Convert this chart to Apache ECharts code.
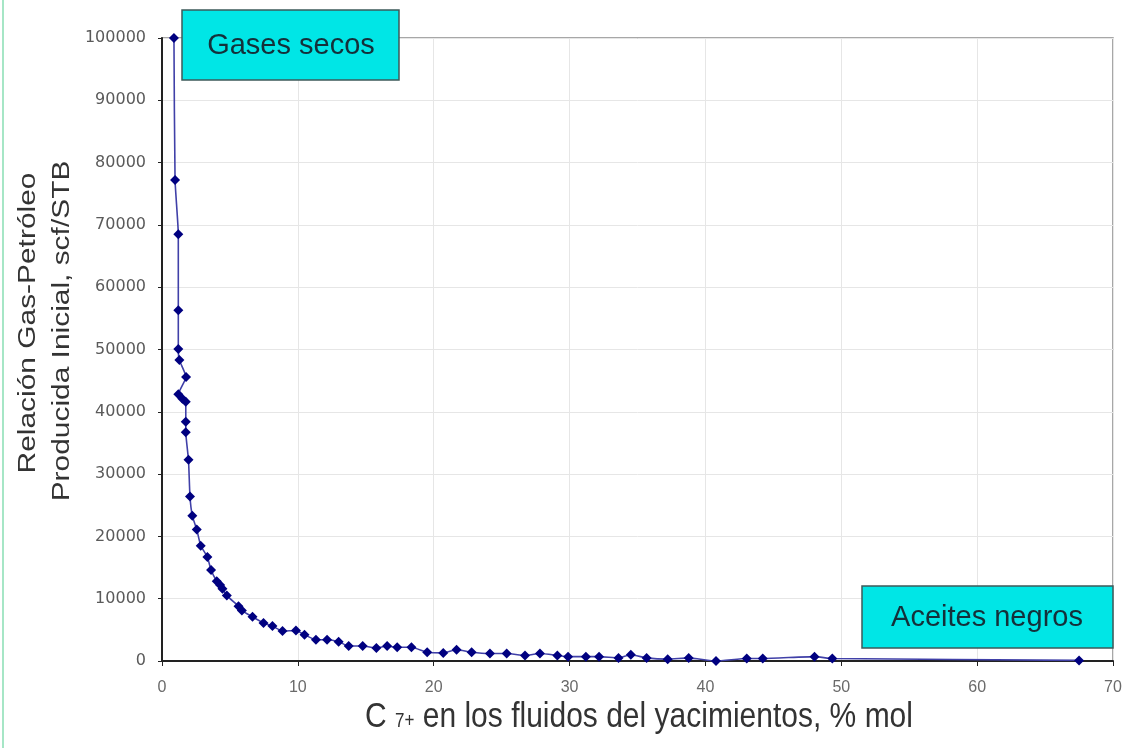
<!DOCTYPE html>
<html><head><meta charset="utf-8">
<script src="https://cdn.jsdelivr.net/npm/echarts@6/dist/echarts.min.js"></script>
<style>html,body{margin:0;padding:0;background:#fff}#c{width:1132px;height:748px}</style>
</head><body><div id="c"></div>
<script>
const c7Percent = [0.88, 0.96, 1.2, 1.2, 1.2, 1.28, 1.77, 1.2, 1.5, 1.75, 1.75, 1.75, 1.95, 2.06, 2.23, 2.56, 2.85, 3.34, 3.61, 4.03, 4.28, 4.45, 4.77, 5.63, 5.88, 6.66, 7.47, 8.13, 8.87, 9.86, 10.49, 11.33, 12.15, 13.0, 13.74, 14.77, 15.78, 16.57, 17.31, 18.36, 19.52, 20.7, 21.68, 22.79, 24.14, 25.37, 26.72, 27.82, 29.1, 29.89, 31.2, 32.17, 33.6, 34.51, 35.67, 37.22, 38.77, 40.78, 43.04, 44.22, 48.03, 49.34, 67.5];
const gorValues = [100000, 77200, 68500, 56300, 50100, 48300, 45600, 42800, 42100, 41600, 38400, 36700, 32300, 26400, 23300, 21100, 18500, 16700, 14600, 12800, 12200, 11600, 10500, 8800, 8100, 7100, 6100, 5600, 4800, 4900, 4200, 3400, 3400, 3100, 2400, 2400, 2100, 2400, 2200, 2200, 1400, 1300, 1800, 1400, 1200, 1200, 900, 1200, 900, 700, 700, 700, 500, 1000, 500, 300, 500, 0, 400, 400, 700, 400, 100];
const xTicks = [0, 10, 20, 30, 40, 50, 60, 70];
const yTicks = [0, 10000, 20000, 30000, 40000, 50000, 60000, 70000, 80000, 90000, 100000];
const yTitle = ['Relación Gas-Petróleo', 'Producida Inicial, scf/STB'];
const xTitle = ['C ', '7+', ' en los fluidos del yacimientos, % mol'];
const annotations = ['Gases secos', 'Aceites negros'];

const data = c7Percent.map((x, i) => [x, gorValues[i]]);
const chart = echarts.init(document.getElementById('c'));
const font = '"Liberation Sans", Arial, sans-serif';
chart.setOption({
  backgroundColor: '#fff',
  animation: false,
  grid: { left: 162, right: 19, top: 38, bottom: 87, show: true, borderColor: '#8a8a8a', borderWidth: 1.5 },
  xAxis: {
    type: 'value', min: xTicks[0], max: xTicks[xTicks.length - 1], interval: 10,
    axisLine: { show: true, onZero: false, lineStyle: { color: '#222', width: 2 } },
    axisTick: { show: true, length: 5, lineStyle: { color: '#222' } },
    axisLabel: { margin: 19, color: '#6a6a6a', fontSize: 16, fontFamily: font },
    splitLine: { show: true, lineStyle: { color: '#e6e6e6' } }
  },
  yAxis: {
    type: 'value', min: yTicks[0], max: yTicks[yTicks.length - 1], interval: 10000,
    axisLine: { show: true, onZero: false, lineStyle: { color: '#222', width: 2 } },
    axisTick: { show: true, length: 4, lineStyle: { color: '#222' } },
    axisLabel: { margin: 16, color: '#5a5a5a', fontSize: 16, fontFamily: '"DejaVu Sans", sans-serif', formatter: v => String(v) },
    splitLine: { show: true, lineStyle: { color: '#e6e6e6' } }
  },
  series: [{
    type: 'line', data: data, smooth: 0.15,
    symbol: 'diamond', symbolSize: 10,
    lineStyle: { color: '#4040a8', width: 1.6 },
    itemStyle: { color: '#000080' },
    z: 5
  }],
  graphic: [
    { type: 'line', shape: { x1: 3, y1: 0, x2: 3, y2: 748 }, style: { stroke: '#a6e6c6', lineWidth: 2 } },
    { type: 'text', x: 29, y: 323, rotation: Math.PI / 2, scaleX: 1.3, style: { text: yTitle[0], font: '23px ' + font, fill: '#333', textAlign: 'center', textVerticalAlign: 'middle' } },
    { type: 'text', x: 63, y: 331, rotation: Math.PI / 2, scaleX: 1.3, style: { text: yTitle[1], font: '23px ' + font, fill: '#333', textAlign: 'center', textVerticalAlign: 'middle' } },
    { type: 'text', x: 639, y: 717, scaleY: 1.15, style: {
        text: '{a|' + xTitle[0] + '}{b|' + xTitle[1] + '}{a|' + xTitle[2] + '}',
        textAlign: 'center', textVerticalAlign: 'middle',
        rich: {
          a: { fontSize: 30, fill: '#333', fontFamily: font },
          b: { fontSize: 17, fill: '#333', fontFamily: font, padding: [8, 0, 0, 0] }
        } } },
    { type: 'rect', shape: { x: 182, y: 10, width: 217, height: 70 }, style: { fill: '#00e6e6', stroke: '#3d5a5a', lineWidth: 1.5 }, z: 10 },
    { type: 'text', x: 291, y: 46, style: { text: annotations[0], font: '29px ' + font, fill: '#14303a', textAlign: 'center', textVerticalAlign: 'middle' }, z: 11 },
    { type: 'rect', shape: { x: 862, y: 586, width: 251, height: 62 }, style: { fill: '#00e6e6', stroke: '#3d5a5a', lineWidth: 1.5 }, z: 10 },
    { type: 'text', x: 987, y: 618, style: { text: annotations[1], font: '29px ' + font, fill: '#14303a', textAlign: 'center', textVerticalAlign: 'middle' }, z: 11 }
  ]
});
</script>
</body></html>
